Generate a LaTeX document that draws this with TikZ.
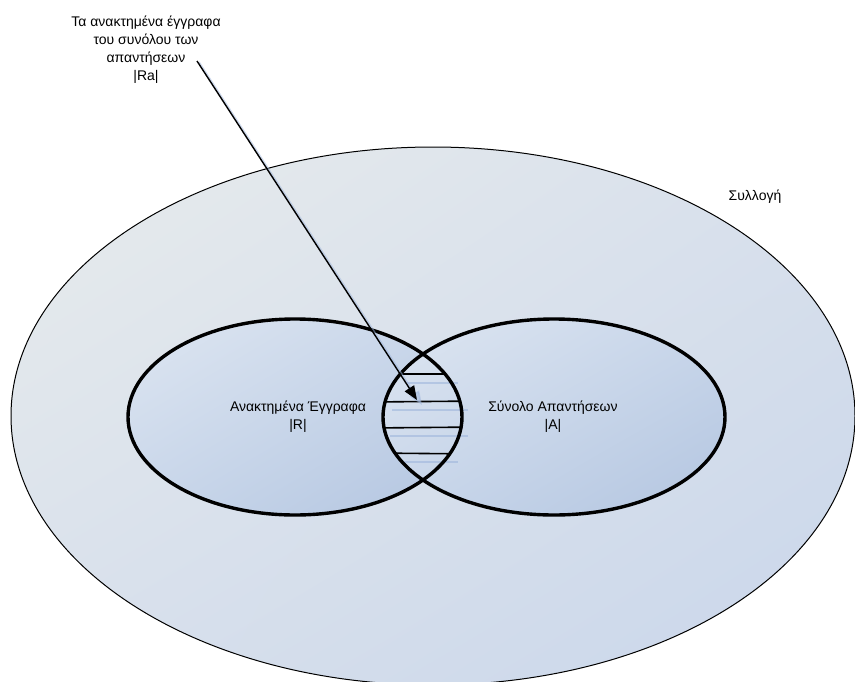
\documentclass[tikz,border=0pt]{standalone}
\usepackage{fontspec}
\setmainfont{Liberation Sans}
\usetikzlibrary{arrows.meta,shadings}
\definecolor{bigUL}{HTML}{E8ECEC}
\definecolor{bigLR}{HTML}{C9D6EA}
\definecolor{bigM}{HTML}{D8E0EC}
\definecolor{inUL}{HTML}{DEE6F1}
\definecolor{inLR}{HTML}{B3C5E0}
\definecolor{inM}{HTML}{C8D6EA}
\definecolor{shadowblue}{HTML}{9FB6DC}
\tikzset{
  lbl/.style={font=\fontsize{14}{18}\selectfont, align=center, inner sep=0pt},
  bigset/.style={draw=black, line width=1pt, upper left=bigUL, lower right=bigLR, upper right=bigM, lower left=bigM},
  subset/.style={upper left=inUL, lower right=inLR, upper right=inM, lower left=inM},
  subborder/.style={draw=black, line width=3.4pt},
  hatch/.style={draw=black, line width=1.6pt},
  hatchshadow/.style={draw=shadowblue, line width=1.6pt, opacity=0.6},
  pointer/.style={draw=black, line width=1.4pt, -{Triangle[length=14pt,width=11pt]}},
  pointershadow/.style={draw=shadowblue, line width=1.6pt, opacity=0.5, -{Triangle[length=14pt,width=11pt]}}
}
\begin{document}
\begin{tikzpicture}[x=1pt,y=-1pt]
\useasboundingbox (0,0) rectangle (855,681);
\begin{scope}
\clip (0,0) rectangle (855,681);
% Collection
\shadedraw[bigset] (433,416) ellipse [x radius=422, y radius=269];
% subsets fills
\shade[subset] (295,417) ellipse [x radius=167, y radius=98];
\shade[subset] (554,417) ellipse [x radius=171, y radius=98];
% hatch shadows
\draw[hatchshadow] (407,383) -- (458,383);
\draw[hatchshadow] (392,410) -- (468,410);
\draw[hatchshadow] (390,436) -- (468,436);
\draw[hatchshadow] (403,462) -- (458,462);
% hatch in lens
\begin{scope}
\clip (295,417) ellipse [x radius=167, y radius=98];
\clip (554,417) ellipse [x radius=171, y radius=98];
\draw[hatch] (370,374) -- (480,374);
\draw[hatch] (370,402) -- (480,401);
\draw[hatch] (370,428) -- (480,427);
\draw[hatch] (370,453) -- (480,454);
\end{scope}
% borders
\draw[subborder] (295,417) ellipse [x radius=167, y radius=98];
\draw[subborder] (554,417) ellipse [x radius=171, y radius=98];
\end{scope}
% labels
\node[lbl] (ra) at (146,50) {Τα ανακτημένα έγγραφα\\του συνόλου των\\απαντήσεων\\|Ra|};
\node[lbl] (r) at (298,417) {Ανακτημένα Έγγραφα\\|R|};
\node[lbl] (a) at (553,417) {Σύνολο Απαντήσεων\\|A|};
\node[lbl] (coll) at (755,197) {Συλλογή};
% pointer
\coordinate (rastart) at (197,61);
\coordinate (tip) at (417,400);
\coordinate (rastartS) at (199,62);
\coordinate (tipS) at (422,405);
\draw[pointershadow] (rastartS) -- (tipS);
\draw[pointer] (rastart) -- (tip);
\end{tikzpicture}
\end{document}
